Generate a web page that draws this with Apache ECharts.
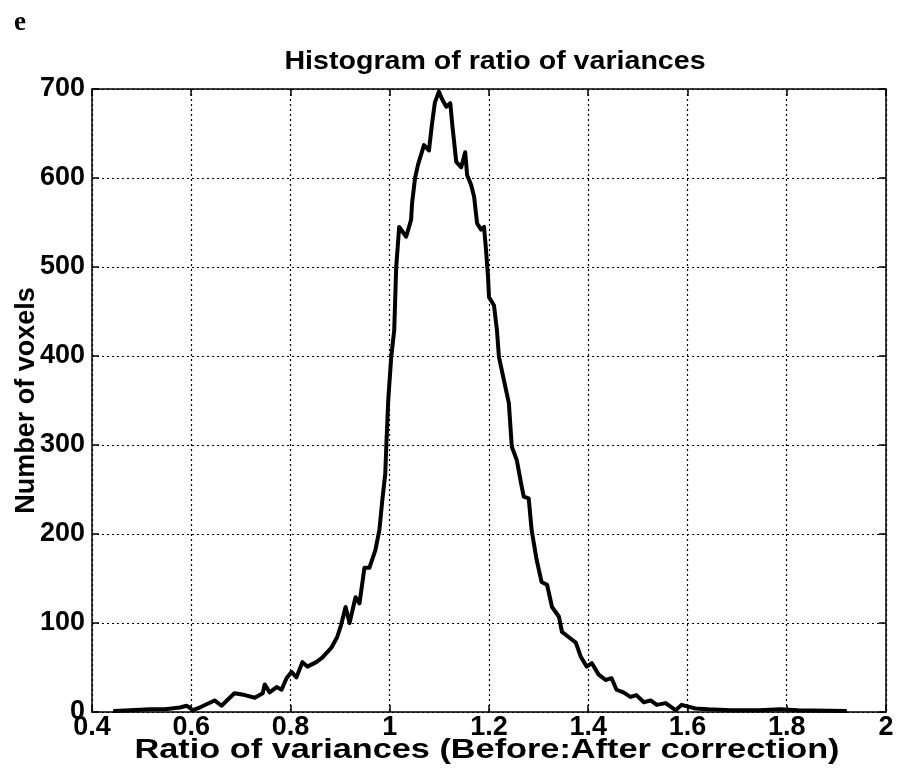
<!DOCTYPE html>
<html>
<head>
<meta charset="utf-8">
<script src="https://cdn.jsdelivr.net/npm/echarts@6/dist/echarts.min.js"></script>
<style>
html,body{margin:0;padding:0;background:#fff;}
#chart{width:897px;height:780px;}
</style>
</head>
<body>
<div id="chart"></div>
<script>
var xTicks = [0.4, 0.6, 0.8, 1, 1.2, 1.4, 1.6, 1.8, 2];
var yTicks = [0, 100, 200, 300, 400, 500, 600, 700];

var ratio = [0.446,0.476,0.517,0.547,0.577,0.591,0.603,0.617,0.647,0.661,0.687,0.708,0.728,0.744,0.748,0.758,0.772,0.782,0.792,0.802,0.812,0.824,0.834,0.852,0.864,0.882,0.894,0.902,0.911,0.919,0.931,0.939,0.949,0.959,0.971,0.979,0.985,0.991,0.993,0.997,1.003,1.009,1.013,1.019,1.033,1.043,1.045,1.051,1.057,1.069,1.079,1.085,1.091,1.099,1.106,1.114,1.122,1.126,1.134,1.144,1.152,1.156,1.164,1.170,1.176,1.184,1.190,1.194,1.198,1.200,1.210,1.216,1.220,1.230,1.240,1.246,1.256,1.266,1.270,1.280,1.286,1.296,1.306,1.317,1.327,1.341,1.347,1.361,1.375,1.385,1.397,1.407,1.421,1.435,1.447,1.457,1.471,1.485,1.497,1.512,1.526,1.538,1.556,1.576,1.588,1.616,1.642,1.688,1.743,1.787,1.823,1.918];
var voxels = [1,2,3,3,5,7,2,5,13,7,21,19,16,21,31,22,28,25,38,45,39,56,51,56,61,72,84,98,118,100,129,122,162,162,182,204,238,268,298,351,399,429,500,545,534,553,572,600,615,637,631,660,685,697,688,680,684,660,618,612,629,603,592,579,549,542,545,519,489,466,457,429,399,373,347,298,283,253,242,240,204,171,146,143,118,107,90,84,78,62,51,55,42,36,38,25,22,17,19,11,13,8,10,2,8,4,3,2,2,3,2,1];

var titleText = 'Histogram of ratio of variances';
var xName = 'Ratio of variances (Before:After correction)';
var yName = 'Number of voxels';
var panelLetter = 'e';

var pts = ratio.map(function(r, i){ return [r, voxels[i]]; });
var FONT = '"Liberation Sans", Arial, Helvetica, sans-serif';

var chart = echarts.init(document.getElementById('chart'), null, {renderer:'canvas'});
chart.setOption({
  animation: false,
  backgroundColor: '#fff',
  title: [
    {text: panelLetter, left: 9, top: 5,
     textStyle: {fontFamily: '"Liberation Serif", "DejaVu Serif", serif', fontWeight: 'bold', fontSize: 27, color: '#000'}}
  ],
  graphic: [
    {type: 'text', x: 495, y: 62, scaleX: 1.1, silent: true,
     style: {text: titleText, fill: '#000', font: 'bold 26px ' + FONT,
             align: 'center', verticalAlign: 'middle', textAlign: 'center', textVerticalAlign: 'middle'}},
    {type: 'text', x: 487, y: 751, scaleX: 1.27, silent: true,
     style: {text: xName, fill: '#000', font: 'bold 27px ' + FONT,
             align: 'center', verticalAlign: 'middle', textAlign: 'center', textVerticalAlign: 'middle'}}
  ],
  grid: {left: 92, right: 11, top: 89, bottom: 68, containLabel: false, outerBoundsMode: 'none'},
  xAxis: [
    {type: 'value', min: 0.4, max: 2, interval: 0.2, position: 'bottom',
     axisLine: {show: true, onZero: false, lineStyle: {color: '#000', width: 1.5}},
     axisTick: {show: true, inside: true, length: 7, lineStyle: {color: '#000', width: 1.5}},
     axisLabel: {show: true, margin: 2, fontFamily: FONT, fontWeight: 'bold', fontSize: 27, color: '#000',
       formatter: function(v){ var t = xTicks.find(function(k){return Math.abs(k-v)<1e-6;}); return t===undefined? '' : String(t); }},
     splitLine: {show: true, lineStyle: {color: '#000', type: [2,3], width: 1.2}}},
    {type: 'value', min: 0.4, max: 2, interval: 0.2, position: 'top',
     axisLine: {show: true, onZero: false, lineStyle: {color: '#000', width: 1.5}},
     axisTick: {show: true, inside: true, length: 7, lineStyle: {color: '#000', width: 1.5}},
     axisLabel: {show: false}, splitLine: {show: false}}
  ],
  yAxis: [
    {type: 'value', min: 0, max: 700, interval: 100, position: 'left',
     name: yName, nameLocation: 'middle', nameGap: 52, nameRotate: 90, nameMoveOverlap: false,
     nameTextStyle: {fontFamily: FONT, fontWeight: 'bold', fontSize: 27, color: '#000'},
     axisLine: {show: true, onZero: false, lineStyle: {color: '#000', width: 1.5}},
     axisTick: {show: true, inside: true, length: 7, lineStyle: {color: '#000', width: 1.5}},
     axisLabel: {show: true, margin: 7, fontFamily: FONT, fontWeight: 'bold', fontSize: 27, color: '#000',
       formatter: function(v){ return yTicks.indexOf(v) >= 0 ? String(v) : ''; }},
     splitLine: {show: true, lineStyle: {color: '#000', type: [2,3], width: 1.2}}},
    {type: 'value', min: 0, max: 700, interval: 100, position: 'right',
     axisLine: {show: true, onZero: false, lineStyle: {color: '#000', width: 1.5}},
     axisTick: {show: true, inside: true, length: 7, lineStyle: {color: '#000', width: 1.5}},
     axisLabel: {show: false}, splitLine: {show: false}}
  ],
  series: [{
    type: 'line', data: pts, xAxisIndex: 0, yAxisIndex: 0,
    showSymbol: false, symbol: 'none', smooth: false,
    lineStyle: {color: '#000', width: 4, join: 'round', cap: 'round'}
  }]
});
</script>
</body>
</html>
